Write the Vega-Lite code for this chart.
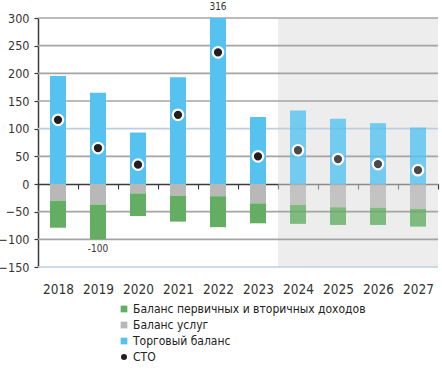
{
  "$schema": "https://vega.github.io/schema/vega-lite/v6.json",
  "width": 400,
  "height": 249,
  "autosize": {"type": "none"},
  "padding": {"left": 38, "top": 18, "right": 4, "bottom": 105},
  "background": "#ffffff",
  "config": {
    "view": {"stroke": null},
    "font": "DejaVu Sans Condensed",
    "axis": {"labelColor": "#333333", "titleColor": "#333333"},
    "axisY": {
      "values": [-150, -100, -50, 0, 50, 100, 150, 200, 250, 300],
      "labelOverlap": false,
      "domain": true,
      "domainColor": "#3a3a3a",
      "domainWidth": 1.5,
      "ticks": true,
      "tickSize": 4,
      "tickColor": "#3a3a3a",
      "tickWidth": 1.2,
      "labelFontSize": 12.5,
      "labelPadding": 5,
      "grid": false,
      "zindex": 1
    },
    "axisX": {
      "offset": -83,
      "domain": true,
      "domainColor": "#3a3a3a",
      "domainWidth": 1.5,
      "ticks": true,
      "tickBand": "extent",
      "tickSize": 5,
      "tickColor": "#3a3a3a",
      "tickWidth": 1.2,
      "grid": false,
      "labelFontSize": 13.5,
      "labelPadding": 93,
      "labelAngle": 0,
      "zindex": 1
    }
  },
  "datasets": {
    "rows": [
      {"year": "2018", "series": "Торговый баланс", "value": 195, "period": "факт"},
      {"year": "2018", "series": "Баланс услуг", "value": -30, "period": "факт"},
      {"year": "2018", "series": "Баланс первичных и вторичных доходов", "value": -49, "period": "факт"},
      {"year": "2018", "series": "СТО", "value": 116, "period": "факт"},
      {"year": "2019", "series": "Торговый баланс", "value": 165, "period": "факт"},
      {"year": "2019", "series": "Баланс услуг", "value": -37, "period": "факт"},
      {"year": "2019", "series": "Баланс первичных и вторичных доходов", "value": -63, "period": "факт"},
      {"year": "2019", "series": "СТО", "value": 65, "period": "факт"},
      {"year": "2020", "series": "Торговый баланс", "value": 93, "period": "факт"},
      {"year": "2020", "series": "Баланс услуг", "value": -17, "period": "факт"},
      {"year": "2020", "series": "Баланс первичных и вторичных доходов", "value": -41, "period": "факт"},
      {"year": "2020", "series": "СТО", "value": 35, "period": "факт"},
      {"year": "2021", "series": "Торговый баланс", "value": 193, "period": "факт"},
      {"year": "2021", "series": "Баланс услуг", "value": -21, "period": "факт"},
      {"year": "2021", "series": "Баланс первичных и вторичных доходов", "value": -47, "period": "факт"},
      {"year": "2021", "series": "СТО", "value": 125, "period": "факт"},
      {"year": "2022", "series": "Торговый баланс", "value": 316, "period": "факт"},
      {"year": "2022", "series": "Баланс услуг", "value": -22, "period": "факт"},
      {"year": "2022", "series": "Баланс первичных и вторичных доходов", "value": -56, "period": "факт"},
      {"year": "2022", "series": "СТО", "value": 238, "period": "факт"},
      {"year": "2023", "series": "Торговый баланс", "value": 121, "period": "факт"},
      {"year": "2023", "series": "Баланс услуг", "value": -35, "period": "факт"},
      {"year": "2023", "series": "Баланс первичных и вторичных доходов", "value": -36, "period": "факт"},
      {"year": "2023", "series": "СТО", "value": 50, "period": "факт"},
      {"year": "2024", "series": "Торговый баланс", "value": 133, "period": "прогноз"},
      {"year": "2024", "series": "Баланс услуг", "value": -38, "period": "прогноз"},
      {"year": "2024", "series": "Баланс первичных и вторичных доходов", "value": -34, "period": "прогноз"},
      {"year": "2024", "series": "СТО", "value": 61, "period": "прогноз"},
      {"year": "2025", "series": "Торговый баланс", "value": 118, "period": "прогноз"},
      {"year": "2025", "series": "Баланс услуг", "value": -42, "period": "прогноз"},
      {"year": "2025", "series": "Баланс первичных и вторичных доходов", "value": -32, "period": "прогноз"},
      {"year": "2025", "series": "СТО", "value": 45, "period": "прогноз"},
      {"year": "2026", "series": "Торговый баланс", "value": 110, "period": "прогноз"},
      {"year": "2026", "series": "Баланс услуг", "value": -43, "period": "прогноз"},
      {"year": "2026", "series": "Баланс первичных и вторичных доходов", "value": -31, "period": "прогноз"},
      {"year": "2026", "series": "СТО", "value": 36, "period": "прогноз"},
      {"year": "2027", "series": "Торговый баланс", "value": 102, "period": "прогноз"},
      {"year": "2027", "series": "Баланс услуг", "value": -45, "period": "прогноз"},
      {"year": "2027", "series": "Баланс первичных и вторичных доходов", "value": -32, "period": "прогноз"},
      {"year": "2027", "series": "СТО", "value": 25, "period": "прогноз"}
    ],
    "notes": [
      {"year": "2022", "value": 316, "label": "316"},
      {"year": "2019", "value": -100, "label": "-100"}
    ],
    "grid": [
      {"g": 300, "kind": "main"}, {"g": 250, "kind": "main"}, {"g": 200, "kind": "main"}, {"g": 150, "kind": "main"}, {"g": 100, "kind": "accent"},
      {"g": 50, "kind": "main"}, {"g": -50, "kind": "main"}, {"g": -100, "kind": "main"}, {"g": -150, "kind": "accent"}
    ]
  },
  "layer": [
    {
      "data": {"name": "rows"},
      "transform": [{"filter": "datum.series === 'СТО' && datum.period === 'прогноз'"}],
      "mark": {"type": "rect", "color": "#dcdcdc", "opacity": 0.5},
      "encoding": {
        "x": {"field": "year", "type": "ordinal", "scale": {"domain": ["2018","2019","2020","2021","2022","2023","2024","2025","2026","2027"], "paddingInner": 0, "paddingOuter": 0}, "axis": {"title": null}},
        "y": {"datum": 300, "type": "quantitative", "scale": {"domain": [-150, 300], "nice": false, "clamp": true}, "axis": {"title": null}},
        "y2": {"datum": -150}
      }
    },
    {
      "data": {"name": "grid"},
      "mark": {"type": "rule", "strokeWidth": 1.6, "opacity": 1},
      "encoding": {
        "y": {"field": "g", "type": "quantitative", "axis": {"title": null}},
        "stroke": {"field": "kind", "type": "nominal", "scale": {"domain": ["main", "accent"], "range": ["#a4a4a4", "#bccfdb"]}, "legend": null}
      }
    },
    {
      "data": {"name": "rows"},
      "transform": [{"filter": "datum.series !== 'СТО'"}],
      "mark": {"type": "bar", "width": {"band": 0.4}},
      "encoding": {
        "x": {"field": "year", "type": "ordinal", "axis": {"title": null}},
        "y": {"field": "value", "type": "quantitative", "stack": "zero", "axis": {"title": null}},
        "color": {
          "field": "series",
          "type": "nominal",
          "scale": {
            "domain": ["Баланс первичных и вторичных доходов", "Баланс услуг", "Торговый баланс", "СТО"],
            "range": ["#63ae62", "#b8b8b8", "#55c2f0", "#231f20"]
          },
          "legend": {
            "title": null,
            "orient": "none",
            "legendX": 80,
            "legendY": 285,
            "direction": "vertical",
            "labelFontSize": 12,
            "labelColor": "#222222",
            "labelOffset": 3,
            "rowPadding": 4,
            "symbolSize": 45,
            "padding": 0,
            "labelLimit": 400,
            "encode": {"symbols": {"update": {"shape": {"signal": "datum.label === 'СТО' ? 'circle' : 'square'"}, "size": {"signal": "datum.label === 'СТО' ? 36 : 45"}, "opacity": {"value": 1}, "strokeWidth": {"value": 0}}}}
          }
        },
        "opacity": {"field": "period", "type": "nominal", "scale": {"domain": ["факт", "прогноз"], "range": [1, 0.8]}, "legend": null},
        "order": {"field": "series", "sort": "descending"}
      }
    },
    {
      "data": {"name": "rows"},
      "transform": [{"filter": "datum.series === 'СТО'"}],
      "mark": {"type": "circle", "size": 110, "stroke": "#ffffff", "strokeWidth": 2.2, "opacity": 1},
      "encoding": {
        "x": {"field": "year", "type": "ordinal", "axis": {"title": null}},
        "y": {"field": "value", "type": "quantitative", "axis": {"title": null}},
        "fill": {"field": "period", "type": "nominal", "scale": {"domain": ["факт", "прогноз"], "range": ["#231f20", "#4a4a4a"]}, "legend": null}
      }
    },
    {
      "data": {"name": "notes"},
      "transform": [{"filter": "datum.value > 0"}],
      "mark": {"type": "text", "fontSize": 10, "color": "#333333", "dy": -11, "baseline": "middle"},
      "encoding": {
        "x": {"field": "year", "type": "ordinal", "axis": {"title": null}},
        "y": {"field": "value", "type": "quantitative", "axis": {"title": null}},
        "text": {"field": "label"}
      }
    },
    {
      "data": {"name": "notes"},
      "transform": [{"filter": "datum.value < 0"}],
      "mark": {"type": "text", "fontSize": 10, "color": "#333333", "dy": 10, "baseline": "middle"},
      "encoding": {
        "x": {"field": "year", "type": "ordinal", "axis": {"title": null}},
        "y": {"field": "value", "type": "quantitative", "axis": {"title": null}},
        "text": {"field": "label"}
      }
    }
  ]
}
